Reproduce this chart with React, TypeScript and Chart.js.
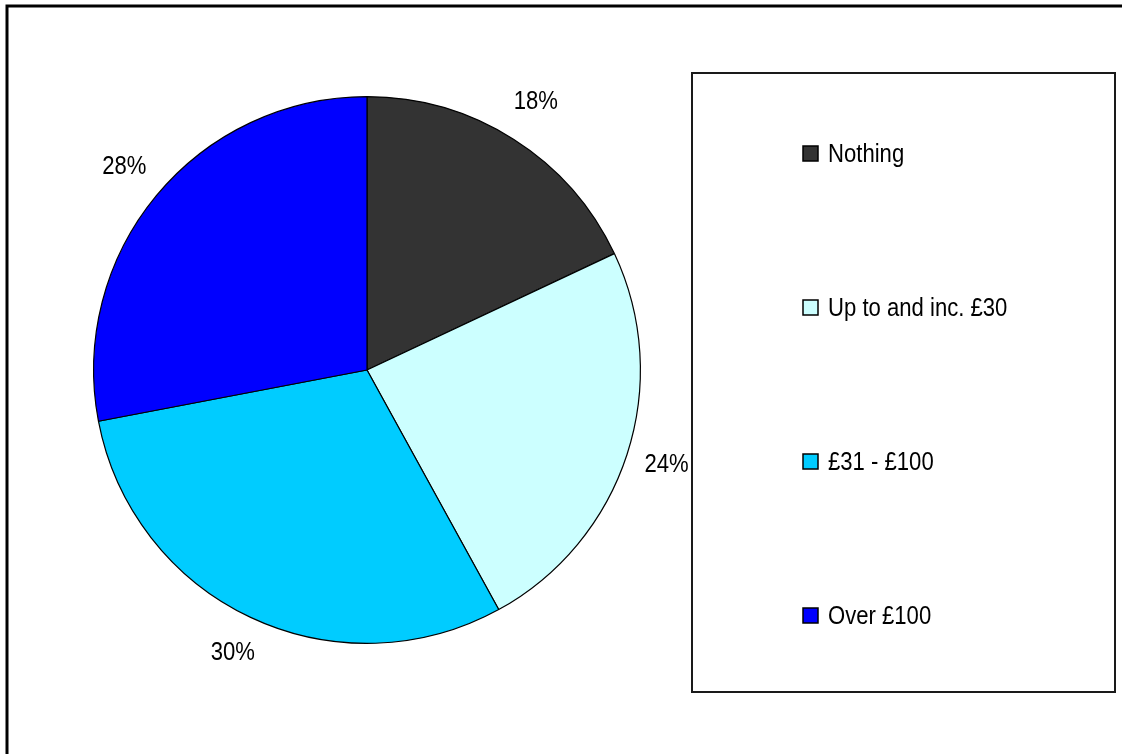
import React, { useEffect, useRef } from "react";
import { Chart, registerables } from "chart.js";

Chart.register(...registerables);

const categories = ["Nothing", "Up to and inc. £30", "£31 - £100", "Over £100"];
const percentages = [18, 24, 30, 28];
const sliceColors = ["#333333", "#CCFFFF", "#00CCFF", "#0000FF"];

const FONT = '"Liberation Sans", Arial, sans-serif';
const NARROW = 0.85;

function narrowText(ctx: any, text: string, x: number, y: number, align: "left" | "center") {
  ctx.save();
  ctx.translate(x, y);
  ctx.scale(NARROW, 1);
  ctx.textAlign = align;
  ctx.fillText(text, 0, 0);
  ctx.restore();
}

const decorPlugin = {
  id: "decor",
  beforeDraw(chart: any) {
    const ctx = chart.ctx;
    ctx.save();
    ctx.fillStyle = "#ffffff";
    ctx.fillRect(0, 0, chart.width, chart.height);
    ctx.strokeStyle = "#000000";
    ctx.lineWidth = 3;
    ctx.beginPath();
    ctx.moveTo(7, chart.height + 5);
    ctx.lineTo(7, 6);
    ctx.lineTo(chart.width + 5, 6);
    ctx.stroke();
    ctx.restore();
  },
  afterDraw(chart: any) {
    const ctx = chart.ctx;
    const meta = chart.getDatasetMeta(0);
    ctx.save();
    ctx.font = `26px ${FONT}`;
    ctx.fillStyle = "#000000";
    ctx.textBaseline = "middle";
    meta.data.forEach((arc: any, i: number) => {
      const mid = (arc.startAngle + arc.endAngle) / 2;
      const r = arc.outerRadius * 1.152;
      const x = arc.x + Math.cos(mid) * r;
      const y = arc.y + Math.sin(mid) * r;
      narrowText(ctx, `${percentages[i]}%`, x, y - 2, "center");
    });

    const bx = 692, by = 73, bw = 423, bh = 619;
    ctx.strokeStyle = "#1a1a1a";
    ctx.lineWidth = 2;
    ctx.strokeRect(bx, by, bw, bh);
    const step = 154;
    categories.forEach((c, i) => {
      const cy = by + 81 + step * i;
      ctx.fillStyle = sliceColors[i];
      ctx.fillRect(803, cy - 8, 15, 15);
      ctx.strokeStyle = "#000000";
      ctx.lineWidth = 1.5;
      ctx.strokeRect(803, cy - 8, 15, 15);
      ctx.fillStyle = "#000000";
      narrowText(ctx, c, 828, cy + 1, "left");
    });
    ctx.restore();
  },
};

export default function App() {
  const ref = useRef<HTMLCanvasElement>(null);
  useEffect(() => {
    if (!ref.current) return;
    const chart = new Chart(ref.current, {
      type: "pie",
      data: {
        labels: categories,
        datasets: [
          {
            data: percentages,
            backgroundColor: sliceColors,
            borderColor: "#000000",
            borderWidth: 1.2,
          },
        ],
      },
      options: {
        responsive: false,
        animation: false,
        layout: { padding: { left: 93, right: 481, top: 96, bottom: 110 } },
        plugins: {
          legend: { display: false },
          tooltip: { enabled: false },
        },
      },
      plugins: [decorPlugin],
    });
    return () => chart.destroy();
  }, []);
  return (
    <div style={{ position: "fixed", left: 0, top: 0, width: 1122, height: 754, background: "#fff" }}>
      <canvas ref={ref} width={1122} height={754} style={{ width: 1122, height: 754 }} />
    </div>
  );
}
